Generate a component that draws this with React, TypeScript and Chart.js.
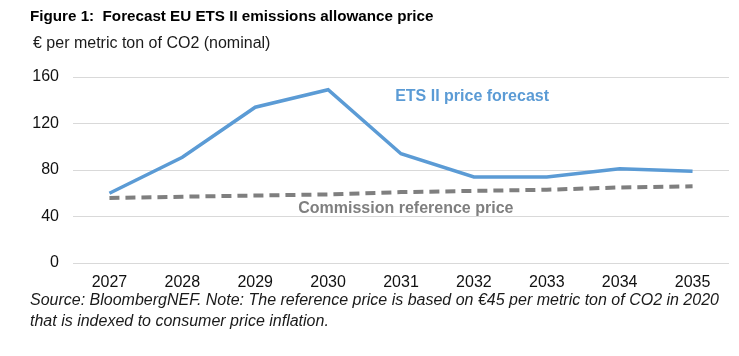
import React, { useEffect, useRef } from "react";
import { Chart, registerables } from "chart.js";

Chart.register(...registerables);

const years = ["2027", "2028", "2029", "2030", "2031", "2032", "2033", "2034", "2035"];
const etsPrice = [60, 91, 134, 149, 94, 74, 74, 81, 79];
const referencePrice = [56, 57, 58, 59, 61, 62, 63, 65, 66];
const yMin = 0;
const yMax = 160;
const yStep = 40;
const etsLabel = "ETS II price forecast";
const refLabel = "Commission reference price";
const titleText = "Figure 1:  Forecast EU ETS II emissions allowance price";
const unitText = "€ per metric ton of CO2 (nominal)";
const sourceLine1 = "Source: BloombergNEF. Note: The reference price is based on €45 per metric ton of CO2 in 2020";
const sourceLine2 = "that is indexed to consumer price inflation.";

const FONT = "'Liberation Sans', Arial, Helvetica, sans-serif";
const BLUE = "#5B9BD5";
const GREY = "#7F7F7F";

const labelPlugin = {
  id: "seriesLabels",
  afterDatasetsDraw(chart: any) {
    const { ctx } = chart;
    const xs = chart.scales.x;
    const ys = chart.scales.y;
    ctx.save();
    ctx.textAlign = "left";
    ctx.textBaseline = "middle";
    ctx.font = `bold 16px ${FONT}`;
    ctx.fillStyle = BLUE;
    ctx.fillText(etsLabel, xs.getPixelForValue(3.92), ys.getPixelForValue(143.5));
    ctx.fillStyle = GREY;
    ctx.fillText(refLabel, xs.getPixelForValue(2.59), ys.getPixelForValue(46.5));
    ctx.restore();
  },
};

export default function App() {
  const ref = useRef<HTMLCanvasElement>(null);

  useEffect(() => {
    if (!ref.current) return;
    const chart = new Chart(ref.current, {
      type: "line",
      data: {
        labels: years,
        datasets: [
          {
            label: etsLabel,
            data: etsPrice,
            borderColor: BLUE,
            borderWidth: 3.5,
            pointRadius: 0,
            tension: 0,
            fill: false,
          },
          {
            label: refLabel,
            data: referencePrice,
            borderColor: GREY,
            borderWidth: 4,
            borderDash: [10, 6],
            pointRadius: 0,
            tension: 0,
            fill: false,
          },
        ],
      },
      options: {
        animation: false,
        responsive: false,
        devicePixelRatio: 1,
        layout: { padding: { top: 77, right: 10, left: 0, bottom: 0 } },
        plugins: { legend: { display: false }, tooltip: { enabled: false }, title: { display: false } },
        scales: {
          x: {
            type: "category",
            offset: true,
            grid: { display: false, drawTicks: false },
            border: { display: false },
            ticks: { color: "#111", font: { family: FONT, size: 16 }, padding: 10, maxRotation: 0 },
            afterFit: (s: any) => {
              s.height = 93;
            },
          },
          y: {
            min: yMin,
            max: yMax,
            grid: { color: "#D9D9D9", lineWidth: 1, drawTicks: false },
            border: { display: false },
            ticks: { stepSize: yStep, color: "#111", font: { family: FONT, size: 16 }, padding: 14 },
            afterFit: (s: any) => {
              s.width = 73;
            },
          },
        },
      },
      plugins: [labelPlugin],
    });
    return () => chart.destroy();
  }, []);

  const base: React.CSSProperties = { position: "absolute", whiteSpace: "pre", fontFamily: FONT };

  return (
    <div style={{ position: "absolute", left: 0, top: 0, width: 739, height: 356, background: "#fff", overflow: "hidden" }}>
      <canvas ref={ref} width={739} height={356} style={{ position: "absolute", left: 0, top: 0 }} />
      <div style={{ ...base, left: 30, top: 6, lineHeight: "20px", fontSize: 15.2, fontWeight: "bold", color: "#000" }}>{titleText}</div>
      <div style={{ ...base, left: 33, top: 33, lineHeight: "20px", fontSize: 16, color: "#1a1a1a" }}>{unitText}</div>
      <div style={{ ...base, left: 30, top: 290, lineHeight: "20px", fontSize: 16, fontStyle: "italic", color: "#1a1a1a" }}>{sourceLine1}</div>
      <div style={{ ...base, left: 30, top: 311, lineHeight: "20px", fontSize: 16, fontStyle: "italic", color: "#1a1a1a" }}>{sourceLine2}</div>
    </div>
  );
}
